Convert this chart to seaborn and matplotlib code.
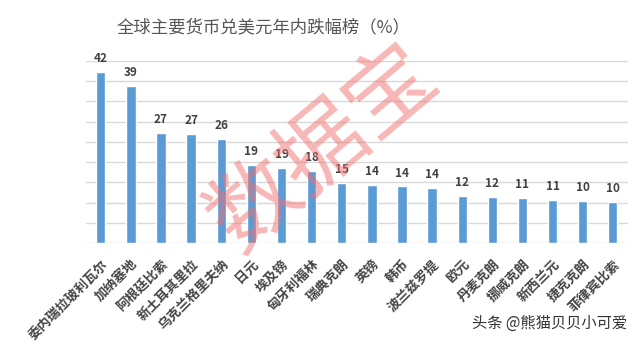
import matplotlib
matplotlib.use("Agg")
import matplotlib.pyplot as plt
import seaborn as sns
import pandas as pd

currencies = ["委内瑞拉玻利瓦尔", "加纳塞地", "阿根廷比索", "新土耳其里拉", "乌克兰格里夫纳",
              "日元", "埃及镑", "匈牙利福林", "瑞典克朗", "英镑", "韩币", "波兰兹罗提",
              "欧元", "丹麦克朗", "挪威克朗", "新西兰元", "捷克克朗", "菲律宾比索"]
declines = [42.3, 38.8, 27.3, 26.9, 25.6, 19.2, 18.6, 17.7, 14.8, 14.4, 14.0, 13.6,
            11.6, 11.5, 11.1, 10.6, 10.4, 10.2]
value_labels = ["42", "39", "27", "27", "26", "19", "19", "18", "15", "14", "14", "14",
                "12", "12", "11", "11", "10", "10"]
title = "全球主要货币兑美元年内跌幅榜（%）"

sns.set_theme(style="white")
plt.rcParams['font.family'] = ['Noto Sans CJK SC', 'DejaVu Sans']

df = pd.DataFrame({"currency": currencies, "decline": declines})

fig = plt.figure(figsize=(6.4, 3.45), dpi=100)
ax = fig.add_axes([0.134, 0.295, 0.847, 0.529])

sns.barplot(data=df, x="currency", y="decline", color="#5B9BD5", saturation=1,
            width=0.31, ax=ax, zorder=3)

ax.set_ylim(0, 45)
ax.set_xlim(-0.5, len(currencies) - 0.5)
ax.set_yticks(range(0, 46, 5))
ax.yaxis.grid(True, color="#D9D9D9", linewidth=1.0, zorder=0)
ax.set_axisbelow(True)
ax.tick_params(axis="y", left=False, labelleft=False)
ax.tick_params(axis="x", bottom=False, pad=4)
for s in ax.spines.values():
    s.set_visible(False)
ax.set_xlabel("")
ax.set_ylabel("")

for lbl in ax.get_xticklabels():
    lbl.set_rotation(45)
    lbl.set_ha("right")
    lbl.set_rotation_mode("anchor")
    lbl.set_fontsize(9.5)
    lbl.set_color("#444444")
    lbl.set_fontweight("bold")

for patch, lab in zip(ax.patches, value_labels):
    ax.annotate(lab, (patch.get_x() + patch.get_width() / 2, patch.get_height()),
                xytext=(0, 5), textcoords="offset points", ha="center", va="bottom",
                fontsize=8.5, fontweight="bold", color="#404040", zorder=5)

fig.text(0.411, 0.922, title, ha="center", va="center", fontsize=12.5, color="#555555")

# watermark
fig.text(0.505, 0.57, "数据宝", ha="center", va="center", fontsize=64, rotation=40,
         color="#F07070", alpha=0.5, zorder=10)

fig.text(0.98, 0.063, "头条 @熊猫贝贝小可爱", ha="right", va="center", fontsize=11,
         color="#333333")

fig.savefig("out.png", dpi=100)
